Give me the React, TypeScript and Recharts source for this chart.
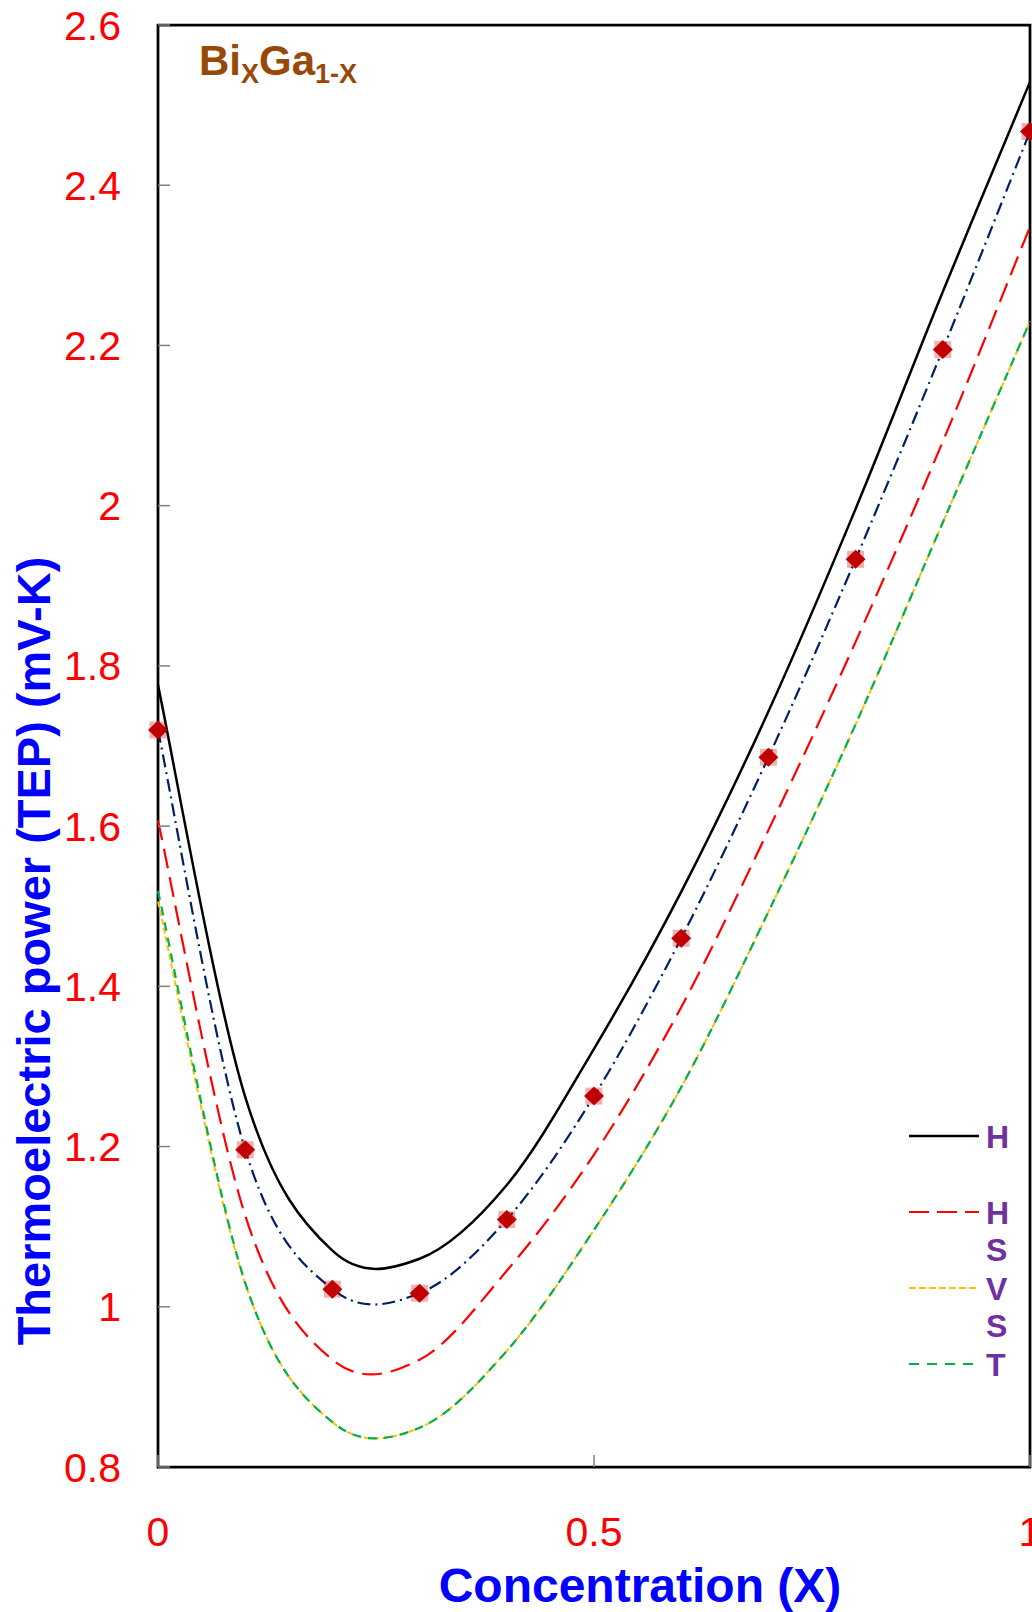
import React from 'react';
import { ComposedChart, Line, XAxis, YAxis, ReferenceArea } from 'recharts';

const concentration = [0, 0.1, 0.2, 0.3, 0.4, 0.5, 0.6, 0.7, 0.8, 0.9, 1];
const seriesH = [1.776, 1.262, 1.07, 1.06, 1.152, 1.322, 1.518, 1.743, 1.996, 2.267, 2.529];
const experimental = [1.72, 1.196, 1.022, 1.017, 1.109, 1.263, 1.46, 1.686, 1.933, 2.195, 2.467];
const seriesHS = [1.607, 1.114, 0.934, 0.934, 1.045, 1.19, 1.374, 1.595, 1.83, 2.08, 2.348];
const seriesVS = [1.506, 1.029, 0.856, 0.849, 0.945, 1.096, 1.274, 1.493, 1.727, 1.979, 2.23];
const seriesT = [1.519, 1.03, 0.856, 0.849, 0.945, 1.096, 1.274, 1.493, 1.727, 1.979, 2.23];
const yTicks = [0.8, 1, 1.2, 1.4, 1.6, 1.8, 2, 2.2, 2.4, 2.6];
const xTicks = [0, 0.5, 1];
const legendLabels = ['H', 'HS', 'VS', 'T'];

const data = concentration.map((x, i) => ({
  x,
  h: seriesH[i],
  fit: experimental[i],
  hs: seriesHS[i],
  vs: seriesVS[i],
  t: seriesT[i],
  exp: experimental[i],
}));

// Spreadsheet-style smoothed line (uniform Catmull-Rom as cubic Bezier segments)
const smoothCurve: any = (context: any) => {
  let xs: number[] = [];
  let ys: number[] = [];
  return {
    areaStart() {},
    areaEnd() {},
    lineStart() {
      xs = [];
      ys = [];
    },
    lineEnd() {
      const n = xs.length;
      if (n === 0) return;
      context.moveTo(xs[0], ys[0]);
      for (let i = 0; i < n - 1; i++) {
        const i0 = Math.max(0, i - 1);
        const i3 = Math.min(n - 1, i + 2);
        const c1x = xs[i] + (xs[i + 1] - xs[i0]) / 6;
        const c1y = ys[i] + (ys[i + 1] - ys[i0]) / 6;
        const c2x = xs[i + 1] - (xs[i3] - xs[i]) / 6;
        const c2y = ys[i + 1] - (ys[i3] - ys[i]) / 6;
        context.bezierCurveTo(c1x, c1y, c2x, c2y, xs[i + 1], ys[i + 1]);
      }
    },
    point(x: number, y: number) {
      xs.push(+x);
      ys.push(+y);
    },
  };
};

const FONT = "'Liberation Sans', Arial, Helvetica, sans-serif";
const Y_TICK_GAP = 37;

const YTick = (props: any) => {
  const { x, y, payload } = props;
  const axisX = x + Y_TICK_GAP;
  return (
    <g>
      <line x1={axisX} y1={y} x2={axisX + 12} y2={y} stroke="#808080" strokeWidth={1.5} />
      <text x={x} y={y} dy={14.5} textAnchor="end" fontFamily={FONT} fontSize={41} fill="#FF0000">
        {String(payload.value)}
      </text>
    </g>
  );
};

const XTick = (props: any) => {
  const { x, y, payload } = props;
  return (
    <g>
      <line x1={x} y1={y - 12} x2={x} y2={y} stroke="#808080" strokeWidth={1.5} />
      <text x={x} y={y} dy={79} textAnchor="middle" fontFamily={FONT} fontSize={41} fill="#FF0000">
        {String(payload.value)}
      </text>
    </g>
  );
};

const Marker = (props: any) => {
  const { cx, cy, index } = props;
  if (cx == null || cy == null) {
    return <g key={`m-${index}`} />;
  }
  return (
    <g key={`m-${index}`}>
      <rect x={cx - 8.5} y={cy - 8.5} width={17} height={17} fill="#C00000" fillOpacity={0.3} />
      <path d={`M${cx},${cy - 9.5} L${cx + 10},${cy} L${cx},${cy + 9.5} L${cx - 10},${cy} Z`} fill="#C00000" />
    </g>
  );
};

const legendItems = [
  { label: legendLabels[0], color: '#000000', dash: undefined as string | undefined, width: 2.5, y: 1136, x2: 979 },
  { label: legendLabels[1], color: '#FF0000', dash: '20 8', width: 2.2, y: 1212, x2: 979 },
  { label: legendLabels[2], color: '#FFC000', dash: '7 3', width: 2, y: 1288, x2: 979 },
  { label: legendLabels[3], color: '#00B050', dash: '10 8', width: 2.2, y: 1364, x2: 973 },
];

export default function App() {
  return (
    <div style={{ position: 'absolute', left: 0, top: 0, width: 1032, height: 1612, background: '#fff' }}>
      <ComposedChart
        width={1032}
        height={1612}
        data={data}
        margin={{ top: 25, right: 2, bottom: 85, left: 98 }}
      >
        <XAxis
          type="number"
          dataKey="x"
          domain={[0, 1]}
          ticks={xTicks}
          interval={0}
          height={60}
          axisLine={false}
          tickLine={false}
          tickSize={0}
          tickMargin={0}
          tick={<XTick />}
        />
        <YAxis
          type="number"
          domain={[0.8, 2.6]}
          ticks={yTicks}
          interval={0}
          width={60}
          axisLine={false}
          tickLine={false}
          tickSize={0}
          tickMargin={Y_TICK_GAP}
          tick={<YTick />}
          allowDataOverflow
        />
        <Line type={smoothCurve} dataKey="vs" stroke="#FFC000" strokeWidth={2} strokeDasharray="6 3" dot={false} activeDot={false} isAnimationActive={false} />
        <Line type={smoothCurve} dataKey="t" stroke="#00B050" strokeWidth={2.2} strokeDasharray="9 7" dot={false} activeDot={false} isAnimationActive={false} />
        <Line type={smoothCurve} dataKey="hs" stroke="#FF0000" strokeWidth={2.2} strokeDasharray="20 9" dot={false} activeDot={false} isAnimationActive={false} />
        <Line type={smoothCurve} dataKey="fit" stroke="#002060" strokeWidth={2.2} strokeDasharray="13 5 2 5" dot={false} activeDot={false} isAnimationActive={false} />
        <Line type={smoothCurve} dataKey="h" stroke="#000000" strokeWidth={2.5} dot={false} activeDot={false} isAnimationActive={false} />
        <Line dataKey="exp" stroke="none" dot={<Marker />} activeDot={false} isAnimationActive={false} />
        <ReferenceArea x1={0} x2={1} y1={0.8} y2={2.6} fill="none" fillOpacity={0} stroke="#000000" strokeWidth={2.75} ifOverflow="visible" />
      </ComposedChart>
      <svg width={1032} height={1612} style={{ position: 'absolute', left: 0, top: 0, pointerEvents: 'none' }}>
        <text x={199} y={75} fontFamily={FONT} fontSize={42} fontWeight="bold" fill="#984807">
          Bi
          <tspan fontSize={27} dy={8}>X</tspan>
          <tspan fontSize={42} dy={-8}>Ga</tspan>
          <tspan fontSize={27} dy={8}>1-X</tspan>
        </text>
        <text x={640} y={1602} textAnchor="middle" fontFamily={FONT} fontSize={48} fontWeight="bold" fill="#0000FF">
          Concentration (X)
        </text>
        <text x={50} y={951} transform="rotate(-90 50 951)" textAnchor="middle" fontFamily={FONT} fontSize={47} fontWeight="bold" fill="#0000FF">
          Thermoelectric power (TEP) (mV-K)
        </text>
        {legendItems.map((it) => (
          <g key={it.label}>
            <line x1={909} y1={it.y} x2={it.x2} y2={it.y} stroke={it.color} strokeWidth={it.width} strokeDasharray={it.dash} />
            {it.label.split('').map((ch, j) => (
              <text key={j} x={986} y={it.y + j * 37} dy={11.5} fontFamily={FONT} fontSize={32} fontWeight="bold" fill="#7030A0">
                {ch}
              </text>
            ))}
          </g>
        ))}
      </svg>
    </div>
  );
}
